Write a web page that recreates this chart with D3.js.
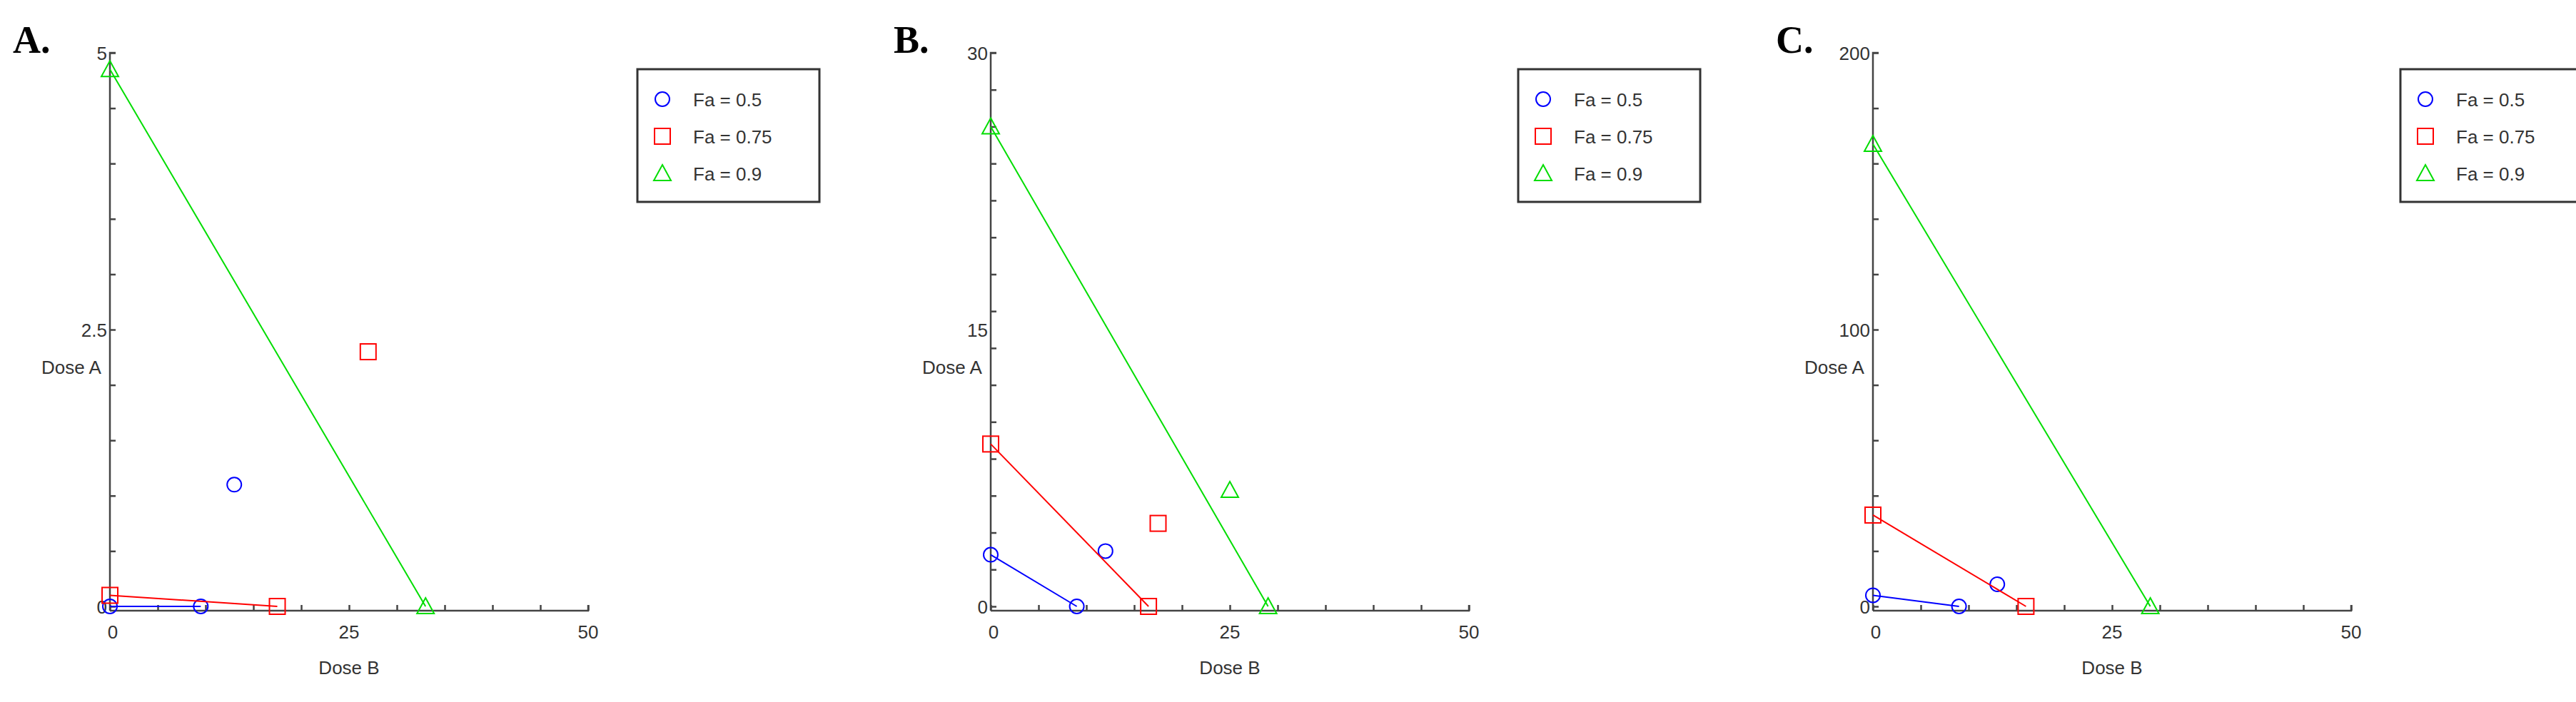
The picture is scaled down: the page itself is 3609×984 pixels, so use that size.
<!DOCTYPE html><html><head><meta charset="utf-8"><script src="https://cdn.jsdelivr.net/npm/d3@7"></script>
<style>body{margin:0;background:#fff}</style></head><body><svg id="c" width="3609" height="984"></svg>
<script>
const panels=["A.","B.","C."];
const yMax=[5,30,200];
const yTickLabels=[["0","2.5","5"],["0","15","30"],["0","100","200"]];
const xTickLabels=["0","25","50"];
const seriesNames=["Fa = 0.5","Fa = 0.75","Fa = 0.9"];
const colors=["#0000ff","#ff0000","#00dd00"];
// per panel: line endpoints [x-intercept point, y-intercept point] and outlier per series
const lineA=[[[0,0],[9.5,0]],[[0,0.1],[17.5,0]],[[0,4.85],[33,0]]];
const outA=[[13,1.1],[27,2.3],null];
const lineB=[[[0,2.8],[9,0]],[[0,8.8],[16.5,0]],[[0,26],[29,0]]];
const outB=[[12,3],[17.5,4.5],[25,6.3]];
const lineC=[[[0,4],[9,0]],[[0,33],[16,0]],[[0,167],[29,0]]];
const outC=[[13,8],null,null];
const lines=[lineA,lineB,lineC], outs=[outA,outB,outC];
const ox=[154,1388,2624];
const svg=d3.select("#c");
const font="'Liberation Sans Narrow','Liberation Sans',Arial,sans-serif";
function marker(g,s,x,y){
  if(s===0) g.append("circle").attr("cx",x).attr("cy",y).attr("r",10).attr("fill","none").attr("stroke",colors[0]).attr("stroke-width",2);
  else if(s===1) g.append("rect").attr("x",x-11).attr("y",y-11).attr("width",22).attr("height",22).attr("fill","none").attr("stroke",colors[1]).attr("stroke-width",2);
  else g.append("path").attr("d",`M${x},${y-12}L${x+12},${y+10}L${x-12},${y+10}Z`).attr("fill","none").attr("stroke",colors[2]).attr("stroke-width",2);
}
panels.forEach((p,i)=>{
  const g=svg.append("g");
  const x=d3.scaleLinear().domain([0,50]).range([ox[i],ox[i]+670]);
  const y=d3.scaleLinear().domain([0,yMax[i]]).range([850,74]);
  g.append("text").attr("x",ox[i]-136).attr("y",74).text(p).attr("font-family","'Liberation Serif',serif").attr("font-weight","bold").attr("font-size",54);
  const xa=g.append("g").attr("transform","translate(0,856)").call(d3.axisTop(x).ticks(10).tickSize(8).tickFormat(""));
  const ya=g.append("g").attr("transform",`translate(${ox[i]},0)`).call(d3.axisRight(y).ticks(10).tickSize(8).tickFormat(""));
  [xa,ya].forEach(a=>{a.selectAll("path,line").attr("stroke","#444").attr("stroke-width",2.5);});
  ya.select("path").attr("d",`M8,74H0V856`);
  xa.select("path").attr("d",`M${ox[i]},0H${ox[i]+670}V-8`);
  [0,25,50].forEach((v,k)=>g.append("text").attr("x",x(v)+(k==0?4:0)).attr("y",895).attr("text-anchor","middle").text(xTickLabels[k]).attr("font-family",font).attr("font-size",26).attr("fill","#333"));
  [0,yMax[i]/2,yMax[i]].forEach((v,k)=>g.append("text").attr("x",ox[i]-4).attr("y",y(v)+10).attr("text-anchor","end").text(yTickLabels[i][k]).attr("font-family",font).attr("font-size",26).attr("fill","#333"));
  g.append("text").attr("x",x(25)).attr("y",945).attr("text-anchor","middle").text("Dose B").attr("font-family",font).attr("font-size",26).attr("fill","#333");
  g.append("text").attr("x",ox[i]-96).attr("y",y(yMax[i]*0.42)).attr("text-anchor","start").text("Dose A").attr("font-family",font).attr("font-size",26).attr("fill","#333");
  [0,1,2].forEach(s=>{
    const L=lines[i][s];
    g.append("line").attr("x1",x(L[0][0])).attr("y1",y(L[0][1])).attr("x2",x(L[1][0])).attr("y2",y(L[1][1])).attr("stroke",colors[s]).attr("stroke-width",2);
    L.forEach(pt=>marker(g,s,x(pt[0]),y(pt[1])));
    const o=outs[i][s]; if(o) marker(g,s,x(o[0]),y(o[1]));
  });
  const lx=ox[i]+739, ly=97;
  g.append("rect").attr("x",lx).attr("y",ly).attr("width",255).attr("height",186).attr("fill","none").attr("stroke","#333").attr("stroke-width",3);
  seriesNames.forEach((n,s)=>{
    marker(g,s,lx+35,ly+42+s*52);
    g.append("text").attr("x",lx+78).attr("y",ly+52+s*52).text(n).attr("font-family",font).attr("font-size",26).attr("fill","#333");
  });
});
</script></body></html>
